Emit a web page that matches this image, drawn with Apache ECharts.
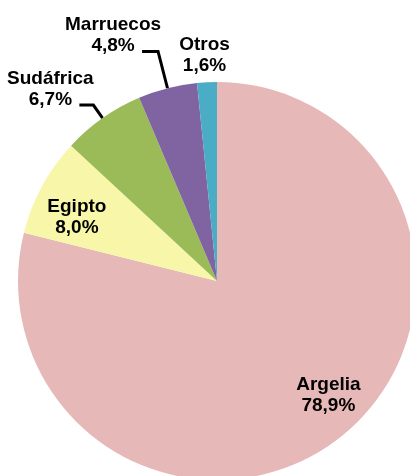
<!DOCTYPE html>
<html>
<head>
<meta charset="utf-8">
<script src="https://cdn.jsdelivr.net/npm/echarts@6/dist/echarts.min.js"></script>
<style>
  html, body { margin: 0; padding: 0; background: #fff; }
  #chart { width: 410px; height: 476px; }
</style>
</head>
<body>
<div id="chart"></div>
<script>
var countries = ['Argelia', 'Egipto', 'Sudáfrica', 'Marruecos', 'Otros'];
var shares = [78.9, 8.0, 6.7, 4.8, 1.6];
var colors = ['#E6B8B7', '#F8F6A8', '#9BBB59', '#8064A2', '#4BACC6'];
// which slices carry their label inside the pie
var insideLabel = [true, true, false, false, false];
var lineLen = [0, 0, 16, 38, 10];
var lineLen2 = [0, 0, 14, 16, 0];
var showLine = [false, false, true, true, false];
// label nudges (px) relative to where echarts puts them
var labelShift = [[14, -10], [-1, 12], [-29, -16], [-29, -16], [-2, -17]];

function fmt(v) {
  return v.toFixed(1).replace('.', ',') + '%';
}

var labelFont = {
  fontFamily: 'Liberation Sans, Arial, sans-serif',
  fontWeight: 'bold',
  fontSize: 19,
  lineHeight: 21,
  color: '#000'
};

var center = [217, 281];
var radius = 199;

var pieData = [];
var innerData = [];
for (var i = 0; i < countries.length; i++) {
  pieData.push({
    name: countries[i],
    value: shares[i],
    itemStyle: { color: colors[i] },
    label: { show: !insideLabel[i] },
    labelLine: {
      show: !insideLabel[i],
      length: lineLen[i],
      length2: lineLen2[i],
      lineStyle: { color: showLine[i] ? '#000' : 'rgba(0,0,0,0)' }
    }
  });
  innerData.push({
    name: countries[i],
    value: shares[i],
    itemStyle: { color: 'rgba(0,0,0,0)' },
    label: { show: insideLabel[i] }
  });
}

var chart = echarts.init(document.getElementById('chart'));
chart.setOption({
  animation: false,
  series: [{
    type: 'pie',
    center: center,
    radius: radius,
    startAngle: 90,
    clockwise: true,
    avoidLabelOverlap: false,
    silent: true,
    label: Object.assign({
      position: 'outside',
      alignTo: 'none',
      formatter: function (p) { return p.name + '\n' + fmt(p.value); }
    }, labelFont),
    labelLine: {
      lineStyle: { width: 3 },
      smooth: false
    },
    labelLayout: function (p) {
      var pts = p.labelLinePoints;
      if (!pts) return;
      var end = pts[pts.length - 1];
      var s = labelShift[p.dataIndex];
      return {
        x: end[0] + s[0],
        y: end[1] + s[1],
        align: 'center',
        verticalAlign: 'middle',
        labelLinePoints: pts
      };
    },
    data: pieData
  }, {
    // transparent twin so the inside labels sit near the rim
    type: 'pie',
    center: center,
    radius: [radius * 0.56, radius],
    startAngle: 90,
    clockwise: true,
    silent: true,
    label: Object.assign({
      position: 'inside',
      formatter: function (p) { return p.name + '\n' + fmt(p.value); }
    }, labelFont),
    labelLine: { show: false },
    labelLayout: function (p) {
      var s = labelShift[p.dataIndex];
      return { dx: s[0], dy: s[1] };
    },
    data: innerData
  }]
});
</script>
</body>
</html>
